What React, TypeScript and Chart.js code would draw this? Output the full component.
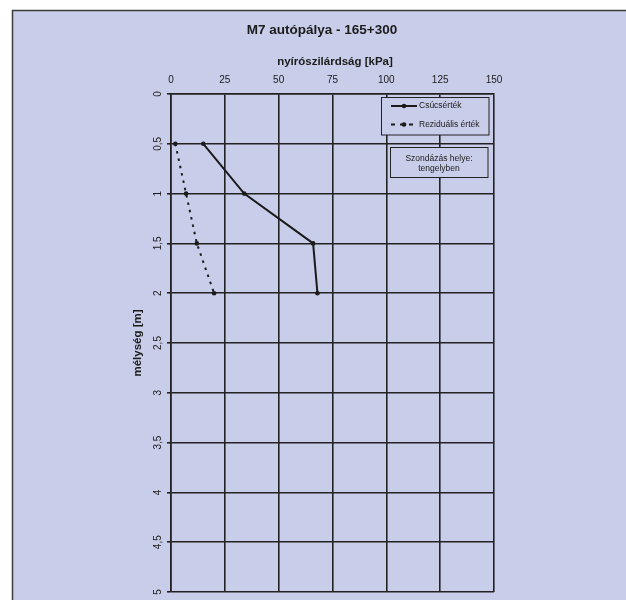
import React, { useEffect, useRef } from "react";
import { Chart, registerables } from "chart.js";

Chart.register(...registerables);

const chartTitle = "M7 autópálya - 165+300";
const xAxisTitle = "nyírószilárdság [kPa]";
const yAxisTitle = "mélység [m]";
const seriesNames = ["Csúcsérték", "Reziduális érték"];
const depths = [0.5, 1, 1.5, 2];
const peakValues = [15, 34, 66, 68];
const residualValues = [2, 7, 12, 20];
const noteLines = ["Szondázás helye:", "tengelyben"];
const xRange = [0, 150];
const xStep = 25;
const yRange = [0, 5];
const yStep = 0.5;

const FONT = '"Liberation Sans", Arial, Helvetica, sans-serif';
const BG = "#c8cde9";
const INK = "#1b1b1b";
const GRID = "#222222";

const decorPlugin = {
  id: "decor",
  beforeDraw(chart: any) {
    const { ctx, width, height } = chart;
    ctx.save();
    ctx.fillStyle = "#ffffff";
    ctx.fillRect(0, 0, width, height);
    ctx.fillStyle = BG;
    ctx.fillRect(12, 10, width - 12, height - 10);
    ctx.strokeStyle = "#3c3c3c";
    ctx.lineWidth = 1.5;
    ctx.beginPath();
    ctx.moveTo(12.5, height);
    ctx.lineTo(12.5, 10.5);
    ctx.lineTo(width, 10.5);
    ctx.stroke();
    ctx.fillStyle = INK;
    ctx.textAlign = "center";
    ctx.textBaseline = "middle";
    ctx.font = `bold 13.5px ${FONT}`;
    ctx.fillText(chartTitle, 322, 30);
    ctx.font = `bold 11.5px ${FONT}`;
    ctx.fillText(xAxisTitle, 335, 62);
    ctx.restore();
  },
  afterDraw(chart: any) {
    const { ctx } = chart;
    const ds = chart.data.datasets;
    ctx.save();
    // legend box
    ctx.fillStyle = BG;
    ctx.fillRect(381, 97.5, 108, 37.5);
    ctx.strokeStyle = GRID;
    ctx.lineWidth = 1;
    ctx.strokeRect(381.5, 97.5, 107.5, 37.5);
    const rows = [106, 124.5];
    ds.forEach((d: any, i: number) => {
      const y = rows[i];
      ctx.strokeStyle = d.borderColor;
      ctx.lineWidth = d.borderWidth;
      ctx.setLineDash(d.borderDash ? [4, 5] : []);
      ctx.beginPath();
      ctx.moveTo(391, y);
      ctx.lineTo(417, y);
      ctx.stroke();
      ctx.setLineDash([]);
      ctx.fillStyle = d.pointBackgroundColor;
      ctx.beginPath();
      ctx.arc(404, y, d.pointRadius, 0, Math.PI * 2);
      ctx.fill();
      ctx.fillStyle = INK;
      ctx.font = `8.5px ${FONT}`;
      ctx.textAlign = "left";
      ctx.textBaseline = "middle";
      ctx.fillText(d.label, 419, y);
    });
    // note box
    ctx.fillStyle = BG;
    ctx.fillRect(390, 147.5, 98, 30);
    ctx.strokeStyle = GRID;
    ctx.lineWidth = 1;
    ctx.strokeRect(390.5, 147.5, 97.5, 30);
    ctx.fillStyle = INK;
    ctx.font = `8.5px ${FONT}`;
    ctx.textAlign = "center";
    ctx.textBaseline = "middle";
    noteLines.forEach((t, i) => ctx.fillText(t, 439, 158.5 + i * 10));
    ctx.restore();
  },
};

export default function App() {
  const ref = useRef<HTMLCanvasElement | null>(null);
  useEffect(() => {
    if (!ref.current) return;
    const chart = new Chart(ref.current, {
      type: "scatter",
      data: {
        datasets: [
          {
            label: seriesNames[0],
            data: depths.map((d, i) => ({ x: peakValues[i], y: d })),
            showLine: true,
            borderColor: INK,
            borderWidth: 2,
            pointRadius: 2.3,
            pointBackgroundColor: INK,
            pointBorderWidth: 0,
          },
          {
            label: seriesNames[1],
            data: depths.map((d, i) => ({ x: residualValues[i], y: d })),
            showLine: true,
            borderColor: INK,
            borderWidth: 2,
            borderDash: [2.5, 5],
            pointRadius: 2.3,
            pointBackgroundColor: INK,
            pointBorderWidth: 0,
          },
        ],
      },
      options: {
        animation: false,
        responsive: false,
        devicePixelRatio: 1,
        layout: { padding: { left: 0, top: 0, right: 132, bottom: 8 } },
        plugins: { legend: { display: false }, title: { display: false }, tooltip: { enabled: false } },
        scales: {
          x: {
            type: "linear",
            position: "top",
            min: xRange[0],
            max: xRange[1],
            ticks: {
              stepSize: xStep,
              color: INK,
              font: { family: FONT, size: 10 },
              padding: 8,
            },
            grid: { color: GRID, lineWidth: 1.6, drawTicks: false },
            border: { display: true, color: GRID, width: 1.6 },
            afterFit: (s: any) => {
              s.height = 94;
            },
          },
          y: {
            type: "linear",
            position: "left",
            reverse: true,
            min: yRange[0],
            max: yRange[1],
            ticks: {
              stepSize: yStep,
              color: INK,
              font: { family: FONT, size: 10 },
              minRotation: 90,
              maxRotation: 90,
              crossAlign: "center",
              padding: 2,
              callback: (v: any) => String(v).replace(".", ","),
            },
            grid: { color: GRID, lineWidth: 1.6, tickLength: 4 },
            border: { display: true, color: GRID, width: 1.6 },
            title: {
              display: true,
              text: yAxisTitle,
              color: INK,
              font: { family: FONT, size: 11.5, weight: "bold" },
              padding: { top: 131, bottom: 0 },
            },
            afterFit: (s: any) => {
              s.width = 171;
            },
          },
        },
      },
      plugins: [decorPlugin],
    } as any);
    return () => chart.destroy();
  }, []);
  return (
    <div style={{ position: "fixed", left: 0, top: 0, width: 626, height: 600 }}>
      <canvas ref={ref} width={626} height={600} />
    </div>
  );
}
